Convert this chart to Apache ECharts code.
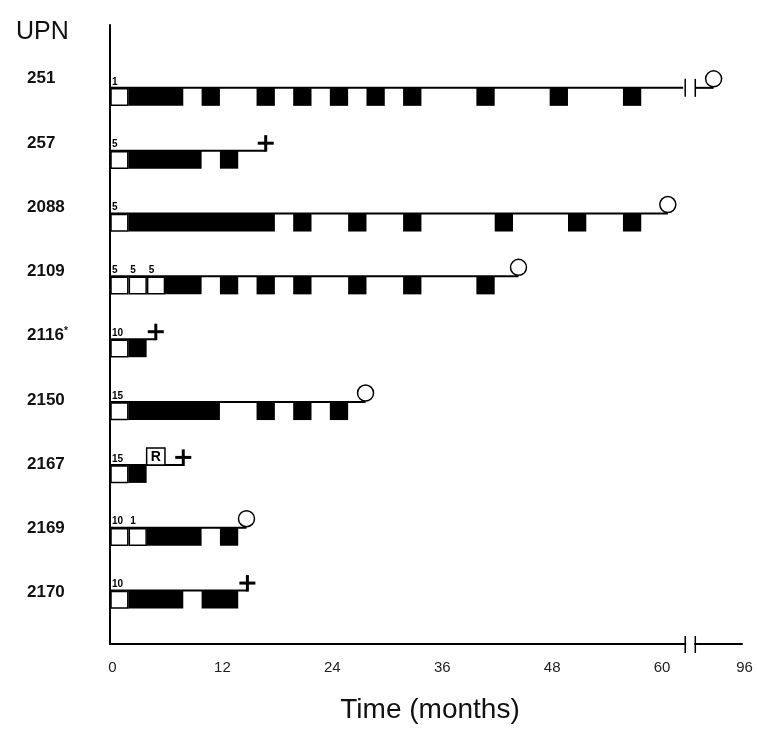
<!DOCTYPE html>
<html>
<head>
<meta charset="UTF-8">
<title>UPN timeline</title>
<script src="https://cdn.jsdelivr.net/npm/echarts@6/dist/echarts.min.js"></script>
<style>
  html, body { margin: 0; padding: 0; background: #fff; }
</style>
</head>
<body>
<div id="main" style="width:757px;height:729px;"></div>
<script type="text/javascript">
// patients (rows, top to bottom)
var upn = ['251', '257', '2088', '2109', '2116*', '2150', '2167', '2169', '2170'];
// end of follow-up line, months on the drawn axis
var followUp = [65.9, 17, 60.9, 44.6, 5, 27.9, 8, 14.9, 15];
var outcome = ['alive', 'dead', 'alive', 'alive', 'dead', 'alive', 'dead', 'alive', 'dead'];
// open boxes: [row, start, end, dose]
var openBoxes = [
    [0, 0, 2, '1'], [1, 0, 2, '5'], [2, 0, 2, '5'],
    [3, 0, 2, '5'], [3, 2, 4, '5'], [3, 4, 6, '5'],
    [4, 0, 2, '10'], [5, 0, 2, '15'], [6, 0, 2, '15'],
    [7, 0, 2, '10'], [7, 2, 4, '1'], [8, 0, 2, '10']
];
// filled blocks: [row, start, end]
var filledBlocks = [
    [0, 2, 8], [0, 10, 12], [0, 16, 18], [0, 20, 22], [0, 24, 26], [0, 28, 30],
    [0, 32, 34], [0, 40, 42], [0, 48, 50], [0, 56, 58],
    [1, 2, 10], [1, 12, 14],
    [2, 2, 18], [2, 20, 22], [2, 26, 28], [2, 32, 34], [2, 42, 44], [2, 50, 52], [2, 56, 58],
    [3, 6, 10], [3, 12, 14], [3, 16, 18], [3, 20, 22], [3, 26, 28], [3, 32, 34], [3, 40, 42],
    [4, 2, 4],
    [5, 2, 12], [5, 16, 18], [5, 20, 22], [5, 24, 26],
    [6, 2, 4],
    [7, 4, 10], [7, 12, 14],
    [8, 2, 8], [8, 10, 14]
];
// relapse marker: [row, start, end, text]
var relapse = [[6, 4, 6, 'R']];
// axis cut
var axisBreak = [62.8, 63.9];
var xTickValues = [0, 12, 24, 36, 48, 60, 69];
var xTickLabels = ['0', '12', '24', '36', '48', '60', '96'];
var rowValues = upn.map(function (u, i) { return i; });

var BAR_H = 18;
var FONT = 'Liberation Sans';

var chart = echarts.init(document.getElementById('main'));

function lineSeg(x1, y1, x2, y2, w) {
    return {
        type: 'line',
        shape: { x1: x1, y1: y1, x2: x2, y2: y2 },
        style: { stroke: '#000', lineWidth: w || 2 }
    };
}

chart.setOption({
    animation: false,
    textStyle: { fontFamily: FONT },
    title: {
        text: 'UPN',
        left: 11,
        top: 15,
        textStyle: { fontFamily: FONT, fontSize: 25, fontWeight: 'normal', color: '#111' }
    },
    grid: { left: 110, right: 15, top: 25, bottom: 73 },
    xAxis: {
        type: 'value',
        min: 0,
        max: 69,
        name: 'Time (months)',
        nameLocation: 'middle',
        nameGap: 52,
        nameTextStyle: { fontFamily: FONT, fontSize: 28, color: '#111', padding: [0, 0, 0, 8] },
        axisLine: { show: true, onZero: false, lineStyle: { color: '#000', width: 2 } },
        axisTick: { show: false },
        splitLine: { show: false },
        axisLabel: {
            customValues: xTickValues,
            margin: 16,
            padding: [0, 0, 0, 5],
            fontFamily: FONT,
            fontSize: 15,
            color: '#222',
            formatter: function (v) {
                var k = xTickValues.indexOf(v);
                return k >= 0 ? xTickLabels[k] : '';
            }
        }
    },
    yAxis: [
        {
            // rows of the timeline
            type: 'value',
            inverse: true,
            min: -1,
            max: 8.85,
            axisLine: { show: true, onZero: false, lineStyle: { color: '#000', width: 2 } },
            axisTick: { show: false },
            splitLine: { show: false },
            axisLabel: { show: false }
        },
        {
            // patient labels (slightly wider spacing than the rows)
            type: 'value',
            inverse: true,
            position: 'left',
            min: -0.835,
            max: 8.8,
            axisLine: { show: false },
            axisTick: { show: false },
            splitLine: { show: false },
            axisLabel: {
                customValues: rowValues,
                align: 'left',
                margin: 83,
                fontFamily: FONT,
                fontSize: 17,
                fontWeight: 'bold',
                color: '#111',
                formatter: function (v) {
                    var s = upn[v];
                    if (s === undefined) return '';
                    if (s.indexOf('*') >= 0) return '{a|' + s.replace('*', '') + '}{s|*}';
                    return s;
                },
                rich: {
                    a: { fontFamily: FONT, fontSize: 17, fontWeight: 'bold', color: '#111' },
                    s: { fontFamily: FONT, fontSize: 10, fontWeight: 'bold', color: '#111', padding: [0, 0, 8, 0] }
                }
            }
        }
    ],
    series: [
        {
            // follow-up lines
            type: 'custom',
            name: 'followup',
            clip: false,
            encode: { x: 1, y: 0 },
            data: upn.map(function (u, i) { return [i, followUp[i]]; }),
            renderItem: function (params, api) {
                var row = api.value(0), end = api.value(1);
                var p0 = api.coord([0, row]);
                var y = p0[1];
                if (end > axisBreak[1]) {
                    var a = api.coord([axisBreak[0], row])[0];
                    var b = api.coord([axisBreak[1], row])[0];
                    var e = api.coord([end, row])[0];
                    return {
                        type: 'group',
                        children: [
                            lineSeg(p0[0], y, a - 2, y),
                            lineSeg(b, y, e, y),
                            lineSeg(a, y - 9, a, y + 9, 1.5),
                            lineSeg(b, y - 9, b, y + 9, 1.5)
                        ]
                    };
                }
                var pe = api.coord([end, row]);
                return lineSeg(p0[0], y, pe[0], y);
            }
        },
        {
            // filled treatment blocks
            type: 'custom',
            name: 'blocks',
            clip: false,
            encode: { x: [1, 2], y: 0 },
            data: filledBlocks,
            renderItem: function (params, api) {
                var row = api.value(0);
                var a = api.coord([api.value(1), row]);
                var b = api.coord([api.value(2), row]);
                return {
                    type: 'rect',
                    shape: { x: a[0], y: a[1], width: b[0] - a[0], height: BAR_H },
                    style: { fill: '#000' }
                };
            }
        },
        {
            // open boxes with dose text
            type: 'custom',
            name: 'open',
            clip: false,
            encode: { x: [1, 2], y: 0 },
            data: openBoxes,
            renderItem: function (params, api) {
                var row = api.value(0);
                var a = api.coord([api.value(1), row]);
                var b = api.coord([api.value(2), row]);
                var dose = openBoxes[params.dataIndex][3];
                return {
                    type: 'group',
                    children: [
                        {
                            type: 'rect',
                            shape: { x: a[0] + 1, y: a[1] + 1, width: b[0] - a[0] - 1.5, height: BAR_H - 1.5 },
                            style: { fill: '#fff', stroke: '#000', lineWidth: 1.5 }
                        },
                        {
                            type: 'text',
                            style: {
                                text: dose, x: a[0] + 2, y: a[1] - 1,
                                font: 'bold 10px "Liberation Sans"', fill: '#000',
                                align: 'left', verticalAlign: 'bottom',
                                textAlign: 'left', textVerticalAlign: 'bottom'
                            }
                        }
                    ]
                };
            }
        },
        {
            // relapse box
            type: 'custom',
            name: 'relapse',
            clip: false,
            encode: { x: [1, 2], y: 0 },
            data: relapse,
            renderItem: function (params, api) {
                var row = api.value(0);
                var a = api.coord([api.value(1), row]);
                var b = api.coord([api.value(2), row]);
                var w = b[0] - a[0];
                return {
                    type: 'group',
                    children: [
                        {
                            type: 'rect',
                            shape: { x: a[0], y: a[1] - BAR_H + 1, width: w, height: BAR_H - 1 },
                            style: { fill: '#fff', stroke: '#000', lineWidth: 1.5 }
                        },
                        {
                            type: 'text',
                            style: {
                                text: relapse[params.dataIndex][3], x: a[0] + w / 2, y: a[1] - BAR_H / 2 + 1,
                                font: 'bold 14px "Liberation Sans"', fill: '#000',
                                align: 'center', verticalAlign: 'middle',
                                textAlign: 'center', textVerticalAlign: 'middle'
                            }
                        }
                    ]
                };
            }
        },
        {
            // outcome markers: circle = alive, cross = dead
            type: 'custom',
            name: 'outcome',
            clip: false,
            encode: { x: 1, y: 0 },
            data: upn.map(function (u, i) { return [i, followUp[i]]; }),
            renderItem: function (params, api) {
                var row = api.value(0);
                var p = api.coord([api.value(1), row]);
                if (outcome[params.dataIndex] === 'alive') {
                    return {
                        type: 'circle',
                        shape: { cx: p[0], cy: p[1] - 9, r: 8 },
                        style: { fill: '#fff', stroke: '#000', lineWidth: 1.5 }
                    };
                }
                var cy = p[1] - 7.5;
                return {
                    type: 'group',
                    children: [
                        lineSeg(p[0] - 8, cy, p[0] + 8, cy, 3),
                        lineSeg(p[0], cy - 8, p[0], p[1] + 1, 3)
                    ]
                };
            }
        },
        {
            // cut mark on the time axis
            type: 'custom',
            name: 'axisbreak',
            clip: false,
            encode: { x: [0, 1] },
            data: [axisBreak],
            renderItem: function (params, api) {
                var a = api.coord([api.value(0), 0])[0];
                var b = api.coord([api.value(1), 0])[0];
                var y = params.coordSys.y + params.coordSys.height;
                return {
                    type: 'group',
                    children: [
                        { type: 'rect', shape: { x: a + 1, y: y - 3, width: b - a - 2, height: 6 }, style: { fill: '#fff' } },
                        lineSeg(a, y - 8, a, y + 9, 1.5),
                        lineSeg(b, y - 8, b, y + 9, 1.5)
                    ]
                };
            }
        }
    ]
});
</script>
</body>
</html>
